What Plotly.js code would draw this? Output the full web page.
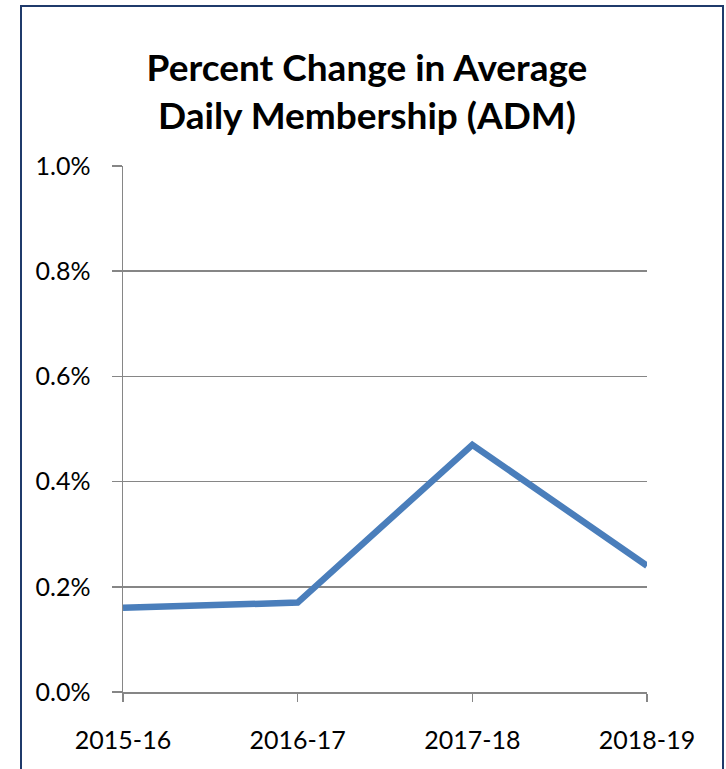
<!DOCTYPE html>
<html>
<head>
<meta charset="utf-8">
<script src="https://cdn.plot.ly/plotly-3.0.1.min.js"></script>
<style>
html,body{margin:0;padding:0;background:#fff;}
#chart{position:absolute;left:0;top:0;width:726px;height:769px;}
#frame{position:absolute;left:20px;top:5px;width:700px;height:780px;border:2.5px solid #1F3A6B;pointer-events:none;}
</style>
</head>
<body>
<div id="chart"></div>
<div id="frame"></div>
<script>
const categories = ["2015-16", "2016-17", "2017-18", "2018-19"];
const pctChange = [0.0016, 0.0017, 0.0047, 0.0024];
const yTicks = [0, 0.002, 0.004, 0.006, 0.008, 0.010];
const chartTitle = "Percent Change in Average<br>Daily Membership (ADM)";

const trace = {
  x: categories,
  y: pctChange,
  type: "scatter",
  mode: "lines",
  line: {color: "#4A7EBB", width: 6.5},
  hoverinfo: "skip"
};

const axisFont = {family: "Lato, 'Open Sans', sans-serif", size: 25, color: "#000"};

const layout = {
  width: 726,
  height: 769,
  paper_bgcolor: "#fff",
  plot_bgcolor: "#fff",
  showlegend: false,
  margin: {l: 123, r: 79, t: 166, b: 77, pad: 0},
  title: {
    text: chartTitle,
    font: {family: "Lato, 'Open Sans', sans-serif", size: 37, color: "#000", weight: "bold"},
    x: 0.5055, xref: "container", xanchor: "center",
    y: 0.8945, yref: "container", yanchor: "middle"
  },
  xaxis: {
    type: "category",
    range: [0, 3],
    showgrid: false,
    showline: true,
    linecolor: "#868686",
    linewidth: 1.5,
    ticks: "outside",
    ticklen: 8,
    tickwidth: 1.5,
    tickcolor: "#868686",
    ticklabelstandoff: 17,
    tickfont: axisFont,
    zeroline: false,
    fixedrange: true
  },
  yaxis: {
    range: [0, 0.010],
    tickvals: yTicks,
    tickformat: ".1%",
    showgrid: true,
    gridcolor: "#868686",
    gridwidth: 1.5,
    showline: true,
    linecolor: "#868686",
    linewidth: 1.5,
    ticks: "outside",
    ticklen: 10,
    tickwidth: 1.5,
    tickcolor: "#868686",
    ticklabelstandoff: 16,
    tickfont: axisFont,
    zeroline: false,
    fixedrange: true
  }
};

Plotly.newPlot("chart", [trace], layout, {staticPlot: true, displayModeBar: false});
</script>
</body>
</html>
